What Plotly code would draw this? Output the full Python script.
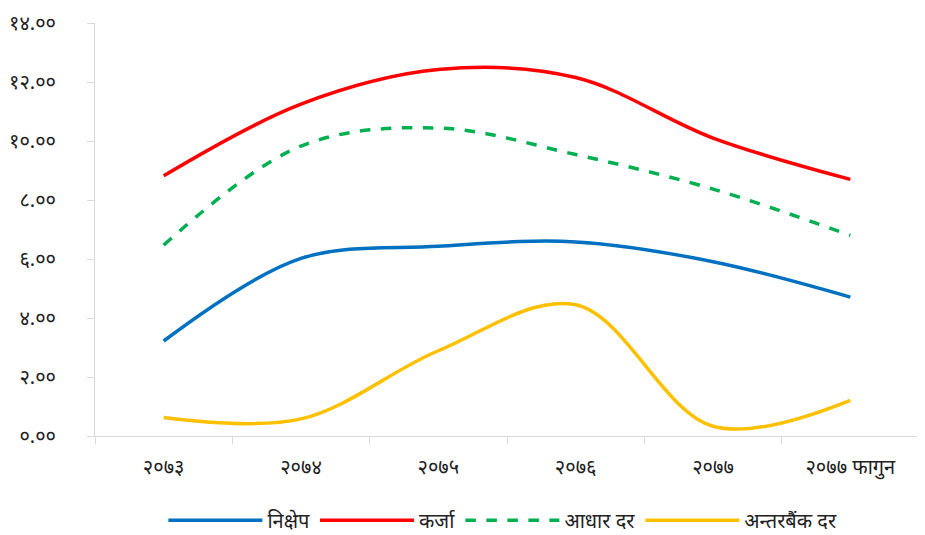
import plotly.graph_objects as go

# वर्षहरू (x categories)
barsa = ['२०७३', '२०७४', '२०७५', '२०७६', '२०७७', '२०७७ फागुन']

# ब्याजदरहरू (प्रतिशत), चित्रबाट अनुमान गरिएको
nikshep = [3.22, 6.02, 6.43, 6.58, 5.91, 4.71]
karja = [8.82, 11.25, 12.42, 12.15, 10.10, 8.70]
aadhar_dar = [6.47, 9.83, 10.44, 9.54, 8.37, 6.80]
antarbank_dar = [0.63, 0.58, 2.89, 4.45, 0.33, 1.21]

y_ticks = [0, 2, 4, 6, 8, 10, 12, 14]
y_ticktext = ['०.००', '२.००', '४.००', '६.००', '८.००', '१०.००', '१२.००', '१४.००']

fig = go.Figure()

fig.add_trace(go.Scatter(x=barsa, y=nikshep, name='निक्षेप', mode='lines',
                         line=dict(color='#0070C0', width=3.5, shape='spline', smoothing=1)))
fig.add_trace(go.Scatter(x=barsa, y=karja, name='कर्जा', mode='lines',
                         line=dict(color='#FF0000', width=3.5, shape='spline', smoothing=1)))
fig.add_trace(go.Scatter(x=barsa, y=aadhar_dar, name='आधार दर', mode='lines',
                         line=dict(color='#00B050', width=3.5, shape='spline', smoothing=1, dash='dash')))
fig.add_trace(go.Scatter(x=barsa, y=antarbank_dar, name='अन्तरबैंक दर', mode='lines',
                         line=dict(color='#FFC000', width=3.5, shape='spline', smoothing=1)))

# page body has 8px margin, so figure is a bit smaller
fig.update_layout(
    width=917, height=527,
    margin=dict(l=87, r=6, t=15, b=99, autoexpand=False),
    plot_bgcolor='white', paper_bgcolor='white',
    font=dict(family='Noto Sans', size=20, color='#222222'),
    showlegend=True,
    legend=dict(orientation='h', x=0.495, xanchor='center', yref='container', y=0.028,
                yanchor='middle', font=dict(size=20), itemwidth=94),
)

fig.update_xaxes(type='category', range=[-0.5, 5.5], showline=True, linecolor='#d9d9d9',
                 linewidth=1, showgrid=False, ticks='outside', ticklen=7, tickcolor='#d9d9d9',
                 tickson='boundaries', ticklabelstandoff=13, automargin=False)
fig.update_yaxes(range=[0, 14], tickvals=y_ticks, ticktext=y_ticktext,
                 showline=True, linecolor='#d9d9d9', linewidth=1, showgrid=False,
                 zeroline=False, ticks='outside', ticklen=7, tickcolor='#d9d9d9',
                 ticklabelstandoff=27, automargin=False, ticklabeloverflow='allow')

fig.write_html("out.html")
